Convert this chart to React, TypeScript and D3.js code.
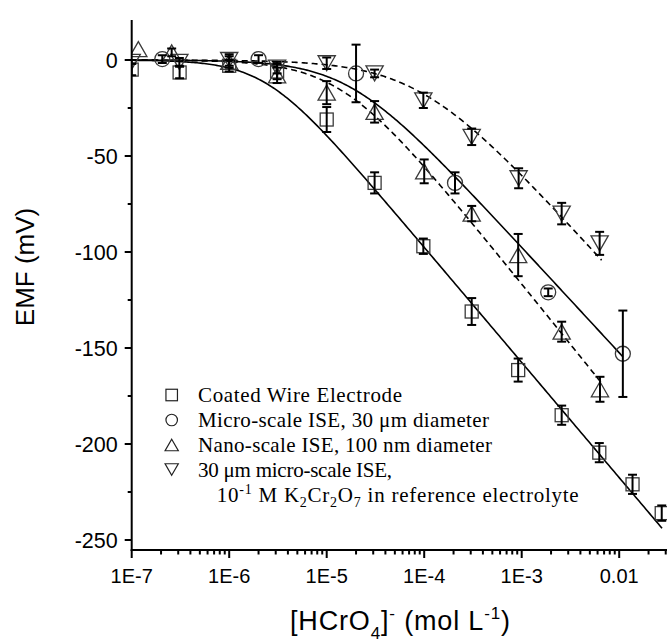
import React from 'react';
import * as d3 from 'd3';

const W = 667;
const H = 643;

// Coated Wire Electrode (squares)
const cweConc = [1e-7, 3.1e-7, 1e-6, 3.1e-6, 1e-5, 3.1e-5, 9.8e-5, 3.07e-4, 9.2e-4, 2.57e-3, 6.25e-3, 1.37e-2, 2.73e-2];
const cweEmf = [-5, -6.5, -3, -6, -31, -64, -97, -131, -161.5, -185, -204.5, -221, -236];
const cweErr = [3, 3, 3, 4, 6.5, 5.5, 4, 7, 6, 5, 5, 5, 4];

// Micro-scale ISE, 30 um (circles)
const microConc = [2.06e-7, 2e-6, 2e-5, 2.07e-4, 1.87e-3, 1.09e-2];
const microEmf = [0.5, 0.5, -7, -64, -121, -153];
const microErr = [2, 2, 15, 5.5, 2, 22.5];

// Nano-scale ISE, 100 nm (up triangles)
const nanoConc = [1.17e-7, 2.57e-7, 1e-6, 3.1e-6, 1e-5, 3.1e-5, 1e-4, 3.07e-4, 9.2e-4, 2.57e-3, 6.35e-3];
const nanoEmf = [5.7, 4, -1, -8, -17, -27, -58, -80, -101.6, -141.5, -171.5];
const nanoErr = [0, 2, 3, 4, 6, 5.6, 6.2, 4, 11, 5.2, 6.5];

// 30 um micro-scale ISE, 0.1 M K2Cr2O7 in reference electrolyte (down triangles)
const refConc = [1e-7, 3.08e-7, 1e-6, 3.1e-6, 1e-5, 3.1e-5, 9.8e-5, 3.07e-4, 9.3e-4, 2.57e-3, 6.3e-3];
const refEmf = [-1, -1, 0, -4, -1.7, -7, -21, -40, -61.6, -80, -95.5];
const refErr = [1, 2, 3, 3, 3, 2, 4, 4.3, 5.2, 5.6, 6];

// Fit curves: E = (S/n) * log10(1 + (c/K)^n)
const fitSlope = [-60, -55, -63, -56];
const fitK = [2.37e-6, 1.69e-5, 1.41e-5, 9.2e-5];
const fitN = [1.5, 1.2, 1.2, 1];
const fitEnd = [0.0275, 0.0109, 0.0066, 0.0066];
const fitDashed = [false, false, true, true];

const xTickValues = [1e-7, 1e-6, 1e-5, 1e-4, 1e-3, 1e-2];
const xTickLabels = ['1E-7', '1E-6', '1E-5', '1E-4', '1E-3', '0.01'];
const yTickValues = [0, -50, -100, -150, -200, -250];
const yTickLabels = ['0', '-50', '-100', '-150', '-200', '-250'];
const yMinorValues = [-25, -75, -125, -175, -225];

const legendTexts = [
  'Coated Wire Electrode',
  'Micro-scale ISE, 30 \u03bcm diameter',
  'Nano-scale ISE, 100 nm diameter',
  '30 \u03bcm micro-scale ISE,',
];

const X0 = 131.7;
const DEC = 97.5;
const xScale = d3.scaleLog().domain([1e-7, Math.pow(10, -1.5)]).range([X0, X0 + 5.5 * DEC]);
const yScale = d3.scaleLinear().domain([-255, 20]).range([549.6, 21.6]);

const AXIS_Y = 550;
const FONT = "Arial, 'Liberation Sans', sans-serif";
const SERIF = "'Times New Roman', 'Liberation Serif', serif";

type Shape = 'square' | 'circle' | 'up' | 'down';

function Marker({ shape, x, y, s, stroke, sw }: { shape: Shape; x: number; y: number; s: number; stroke: string; sw: number }) {
  if (shape === 'square') {
    return <rect x={x - s / 2} y={y - s / 2} width={s} height={s} fill="none" stroke={stroke} strokeWidth={sw} />;
  }
  if (shape === 'circle') {
    return <circle cx={x} cy={y} r={s / 2} fill="none" stroke={stroke} strokeWidth={sw} />;
  }
  const w = s * 1.15;
  const h = s;
  if (shape === 'up') {
    return <path d={`M${x},${y - h / 2}L${x + w / 2},${y + h / 2}L${x - w / 2},${y + h / 2}Z`} fill="none" stroke={stroke} strokeWidth={sw} />;
  }
  return <path d={`M${x},${y + h / 2}L${x + w / 2},${y - h / 2}L${x - w / 2},${y - h / 2}Z`} fill="none" stroke={stroke} strokeWidth={sw} />;
}

const seriesList: { conc: number[]; emf: number[]; err: number[]; shape: Shape; size: number }[] = [
  { conc: cweConc, emf: cweEmf, err: cweErr, shape: 'square', size: 13 },
  { conc: microConc, emf: microEmf, err: microErr, shape: 'circle', size: 15 },
  { conc: nanoConc, emf: nanoEmf, err: nanoErr, shape: 'up', size: 15 },
  { conc: refConc, emf: refEmf, err: refErr, shape: 'down', size: 15 },
];

function fitPath(i: number): string {
  const S = fitSlope[i];
  const K = fitK[i];
  const n = fitN[i];
  const lo = Math.log10(1e-7);
  const hi = Math.log10(fitEnd[i]);
  const pts: [number, number][] = d3.range(0, 301).map((k) => {
    const c = Math.pow(10, lo + ((hi - lo) * k) / 300);
    const e = (S / n) * Math.log10(1 + Math.pow(c / K, n));
    return [c, e];
  });
  const line = d3
    .line<[number, number]>()
    .x((d) => xScale(d[0]))
    .y((d) => yScale(d[1]));
  return line(pts) || '';
}

export default function App() {
  const xMinor: number[] = [];
  for (let p = -7; p <= -2; p++) {
    for (let m = 2; m <= 9; m++) {
      const v = m * Math.pow(10, p);
      if (v <= Math.pow(10, -1.5)) xMinor.push(v);
    }
  }
  const xRight = X0 + 5.5 * DEC;
  const legendX = 171.7;
  const legendTextX = 198;
  const legendRows = [395, 420, 445, 469.5];
  const legendWidths = [204, 291, 294, 194];
  const legendShapes: Shape[] = ['square', 'circle', 'up', 'down'];

  return (
    <svg width={W} height={H} style={{ position: 'absolute', left: 0, top: 0, background: '#fff' }} xmlns="http://www.w3.org/2000/svg">
      <defs>
        <clipPath id="plotclip">
          <rect x={X0} y={0} width={W - X0} height={AXIS_Y} />
        </clipPath>
      </defs>
      <rect x={0} y={0} width={W} height={H} fill="#fff" />

      {/* fit curves */}
      <g clipPath="url(#plotclip)">
        {fitSlope.map((_, i) => (
          <path
            key={'fit' + i}
            d={fitPath(i)}
            fill="none"
            stroke="#000"
            strokeWidth={1.6}
            strokeDasharray={fitDashed[i] ? '6,4' : undefined}
          />
        ))}
      </g>

      {/* markers */}
      <g clipPath="url(#plotclip)">
        {seriesList.map((s, si) =>
          s.conc.map((c, j) => (
            <Marker key={`m${si}-${j}`} shape={s.shape} x={xScale(c)} y={yScale(s.emf[j])} s={s.size} stroke="#3a3a3a" sw={1.3} />
          ))
        )}
      </g>

      {/* error bars */}
      <g clipPath="url(#plotclip)" stroke="#000" strokeWidth={2}>
        {seriesList.map((s, si) =>
          s.conc.map((c, j) => {
            if (!s.err[j]) return null;
            const x = xScale(c);
            const y1 = yScale(s.emf[j] + s.err[j]);
            const y2 = yScale(s.emf[j] - s.err[j]);
            return (
              <g key={`e${si}-${j}`}>
                <line x1={x} x2={x} y1={y1} y2={y2} />
                <line x1={x - 4.5} x2={x + 4.5} y1={y1} y2={y1} />
                <line x1={x - 4.5} x2={x + 4.5} y1={y2} y2={y2} />
              </g>
            );
          })
        )}
      </g>

      {/* axes */}
      <g stroke="#000" strokeWidth={2}>
        <line x1={X0} x2={X0} y1={20} y2={AXIS_Y + 1} />
        <line x1={X0 - 1} x2={xRight} y1={AXIS_Y} y2={AXIS_Y} />
        {yTickValues.map((v) => (
          <line key={'yt' + v} x1={X0 - 7} x2={X0} y1={yScale(v)} y2={yScale(v)} />
        ))}
        {yMinorValues.map((v) => (
          <line key={'ym' + v} x1={X0 - 4} x2={X0} y1={yScale(v)} y2={yScale(v)} />
        ))}
        {xTickValues.map((v) => (
          <line key={'xt' + v} x1={xScale(v)} x2={xScale(v)} y1={AXIS_Y} y2={AXIS_Y + 8} />
        ))}
        {xMinor.map((v) => (
          <line key={'xm' + v} x1={xScale(v)} x2={xScale(v)} y1={AXIS_Y} y2={AXIS_Y + 4.5} />
        ))}
      </g>

      <g fontFamily={FONT} fill="#000">
        {yTickValues.map((v, i) => (
          <text key={'yl' + v} x={X0 - 14} y={yScale(v) + 7.5} textAnchor="end" fontSize={21.5}>
            {yTickLabels[i]}
          </text>
        ))}
        {xTickValues.map((v, i) => (
          <text key={'xl' + v} x={xScale(v)} y={583} textAnchor="middle" fontSize={20}>
            {xTickLabels[i]}
          </text>
        ))}
      </g>

      {/* axis titles */}
      <text fontFamily={FONT} fontSize={26} textAnchor="middle" transform={`translate(34,267) rotate(-90)`}>
        EMF (mV)
      </text>
      <text fontFamily={FONT} fontSize={27} x={290} y={630} textLength={220} lengthAdjust="spacing">
        [HCrO
        <tspan fontSize={17} dy={9}>4</tspan>
        <tspan dy={-9}>]</tspan>
        <tspan fontSize={17} dy={-11}>-</tspan>
        <tspan dy={11}> (mol L</tspan>
        <tspan fontSize={17} dy={-11}>-1</tspan>
        <tspan dy={11}>)</tspan>
      </text>

      {/* legend */}
      <g>
        {legendRows.map((ry, i) => (
          <g key={'lg' + i}>
            <Marker shape={legendShapes[i]} x={legendX} y={ry} s={11.5} stroke="#222" sw={1.2} />
            <text
              x={legendTextX}
              y={ry + 7}
              fontFamily={SERIF}
              fontSize={21}
              textLength={legendWidths[i]}
              lengthAdjust="spacing"
            >
              {legendTexts[i]}
            </text>
          </g>
        ))}
        <text x={216.7} y={495 + 7} fontFamily={SERIF} fontSize={21} textLength={362} lengthAdjust="spacing">
          10
          <tspan fontSize={14} dy={-8}>-1</tspan>
          <tspan dy={8}> M K</tspan>
          <tspan fontSize={14} dy={5}>2</tspan>
          <tspan dy={-5}>Cr</tspan>
          <tspan fontSize={14} dy={5}>2</tspan>
          <tspan dy={-5}>O</tspan>
          <tspan fontSize={14} dy={5}>7</tspan>
          <tspan dy={-5}> in reference electrolyte</tspan>
        </text>
      </g>
    </svg>
  );
}
